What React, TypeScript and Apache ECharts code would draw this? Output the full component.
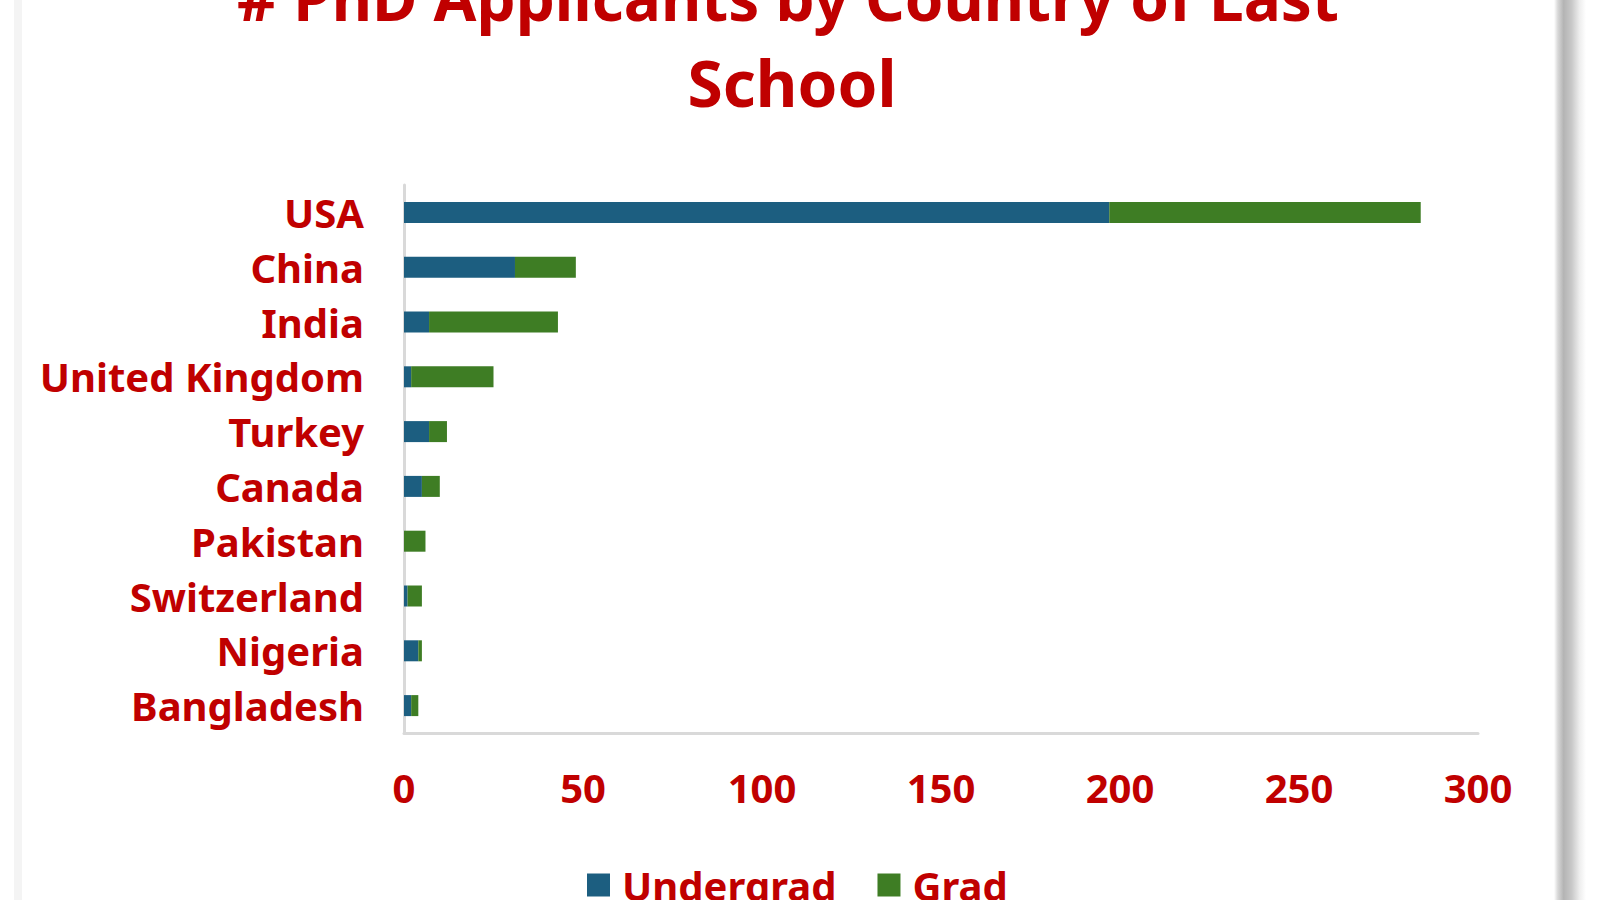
import React, { useEffect, useRef } from "react";
import * as echarts from "echarts";

const categories = [
  "USA",
  "China",
  "India",
  "United Kingdom",
  "Turkey",
  "Canada",
  "Pakistan",
  "Switzerland",
  "Nigeria",
  "Bangladesh",
];
const undergrad = [197, 31, 7, 2, 7, 5, 0, 1, 4, 2];
const grad = [87, 17, 36, 23, 5, 5, 6, 4, 1, 2];
const xTicks = { min: 0, max: 300, interval: 50 };
const titleLines = ["# PhD Applicants by Country of Last", "School"];

const RED = "#c00000";
const BLUE = "#1c5e80";
const GREEN = "#3e7d24";
const FONT = "'Noto Sans', 'DejaVu Sans', sans-serif";

export default function App() {
  const ref = useRef<HTMLDivElement>(null);
  useEffect(() => {
    if (!ref.current) return;
    const chart = echarts.init(ref.current, undefined, { renderer: "svg" });
    chart.setOption({
      animation: false,
      backgroundColor: "#ffffff",
      textStyle: { fontFamily: FONT },
      graphic: [
        {
          type: "rect",
          shape: { x: 14, y: 0, width: 8, height: 900 },
          style: { fill: "#f4f4f4" },
          silent: true,
        },
        {
          type: "rect",
          shape: { x: 1554, y: 0, width: 32, height: 900 },
          style: {
            fill: new echarts.graphic.LinearGradient(0, 0, 1, 0, [
              { offset: 0, color: "#ffffff" },
              { offset: 0.12, color: "#d8d8d8" },
              { offset: 0.3, color: "#b4b4b4" },
              { offset: 0.55, color: "#c8c8c8" },
              { offset: 0.8, color: "#eeeeee" },
              { offset: 1, color: "#ffffff" },
            ]),
          },
          silent: true,
        },
        {
          type: "text",
          x: 788,
          y: -3,
          style: {
            text: titleLines[0],
            font: `bold 62px ${FONT}`,
            fill: RED,
            textAlign: "center",
            textVerticalAlign: "middle",
          },
        },
        {
          type: "text",
          x: 792,
          y: 82,
          style: {
            text: titleLines[1],
            font: `bold 64px ${FONT}`,
            fill: RED,
            textAlign: "center",
            textVerticalAlign: "middle",
          },
        },
      ],
      legend: {
        data: ["Undergrad", "Grad"],
        left: 587,
        top: 865,
        padding: 0,
        icon: "rect",
        itemWidth: 23,
        itemHeight: 23,
        itemGap: 41,
        textStyle: {
          color: RED,
          fontSize: 40,
          fontWeight: "bold",
          fontFamily: FONT,
          padding: [0, 0, 0, 7],
        },
      },
      grid: { left: 404, right: 122, top: 185, height: 548, containLabel: false },
      xAxis: {
        type: "value",
        min: xTicks.min,
        max: xTicks.max,
        interval: xTicks.interval,
        axisLine: { show: true, lineStyle: { color: "#d9d9d9", width: 3 } },
        axisTick: { show: false },
        splitLine: { show: false },
        axisLabel: {
          color: RED,
          fontSize: 40,
          fontWeight: "bold",
          fontFamily: FONT,
          margin: 34,
        },
      },
      yAxis: {
        type: "category",
        data: categories,
        inverse: true,
        axisLine: { show: true, lineStyle: { color: "#d9d9d9", width: 3 } },
        axisTick: { show: false },
        splitLine: { show: false },
        axisLabel: {
          color: RED,
          fontSize: 40,
          fontWeight: "bold",
          fontFamily: FONT,
          margin: 40,
        },
      },
      series: [
        {
          name: "Undergrad",
          type: "bar",
          stack: "total",
          data: undergrad,
          barWidth: 21,
          itemStyle: { color: BLUE },
        },
        {
          name: "Grad",
          type: "bar",
          stack: "total",
          data: grad,
          barWidth: 21,
          itemStyle: { color: GREEN },
        },
      ],
    });
    return () => chart.dispose();
  }, []);
  return (
    <div
      ref={ref}
      style={{ position: "fixed", left: 0, top: 0, width: 1600, height: 900 }}
    />
  );
}
